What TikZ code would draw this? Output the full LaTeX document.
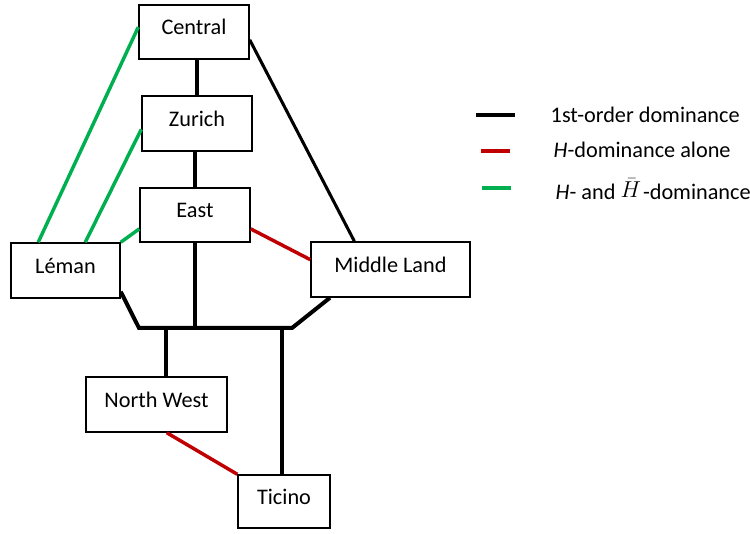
\documentclass[tikz,border=0pt]{standalone}
\usepackage{fontspec}
\setmainfont{Carlito}
\definecolor{domred}{HTML}{C00000}
\definecolor{domgreen}{HTML}{00B050}

\begin{document}
\begin{tikzpicture}[x=0.75pt,y=-0.75pt,
    region/.style={draw,line width=1.1pt,inner sep=0pt,text height=12pt,text depth=8pt,
        font=\fontsize{16.7}{20}\selectfont},
    first/.style={line width=3pt},
    hdom/.style={line width=2.6pt,domred},
    hhdom/.style={line width=2.6pt,domgreen},
    legtext/.style={anchor=west,font=\fontsize{16.7}{20}\selectfont}]
\useasboundingbox (0,0) rectangle (750,534);

% regions
\node[region,minimum width=82.5pt,minimum height=40.5pt] (central) at (194,32) {Central};
\node[region,minimum width=82.5pt,minimum height=41.25pt] (zurich) at (197,123.5) {Zurich};
\node[region,minimum width=82.5pt,minimum height=40.5pt] (east) at (195,215) {East};
\node[region,minimum width=81.75pt,minimum height=41.25pt] (leman) at (65.5,270.5) {Léman};
\node[region,minimum width=119.25pt,minimum height=41.25pt] (middle) at (390.5,269.5) {Middle Land};
\node[region,minimum width=105.75pt,minimum height=41.25pt] (northwest) at (156.5,404.5) {North West};
\node[region,minimum width=69pt,minimum height=39.75pt] (ticino) at (284,501.5) {Ticino};

% 1st-order dominance
\draw[first] (zurich.north |- central.south)--(zurich.north);
\draw[first] (east.north |- zurich.south)--(east.north);
\draw[line width=2.3pt] (central.-8)--(middle.142);
\coordinate (busL) at (139,328);
\coordinate (busR) at (292,328);
\draw[first] (leman.-21)--(busL)--(busR)--(middle.205);
\draw[first] (east.south)--(east.south |- busL);
\draw[first] (northwest.71)--(northwest.71 |- busL);
\draw[first] ([xshift=-1.5pt]ticino.north)--([xshift=-1.5pt]ticino.north |- busL);

% H-dominance alone
\draw[hdom] (east.-14)--(middle.173);
\draw[hdom] (northwest.-70)--(ticino.north west);

% H- and H-bar-dominance
\draw[hhdom] (central.175)--(leman.134);
\draw[hhdom] (zurich.186)--(leman.55);
\draw[hhdom] (east.194)--(leman.north east);

% legend
\node[legtext] (leg1) at (546,115) {1st-order dominance};
\node[legtext] (leg2) at (549,150) {\textit{H}-dominance alone};
\node[legtext] (leg3) at (551,189) {\textit{H}- and \raisebox{1.5pt}{$\bar{H}$}\kern1.5pt-dominance};
\coordinate (k1a) at (476,115); \coordinate (k1b) at (515,115);
\coordinate (k2a) at (481,151); \coordinate (k2b) at (510,151);
\coordinate (k3a) at (482,188); \coordinate (k3b) at (511,188);
\draw[first] (k1a)--(k1b);
\draw[hdom] (k2a)--(k2b);
\draw[hhdom] (k3a)--(k3b);

\end{tikzpicture}
\end{document}
